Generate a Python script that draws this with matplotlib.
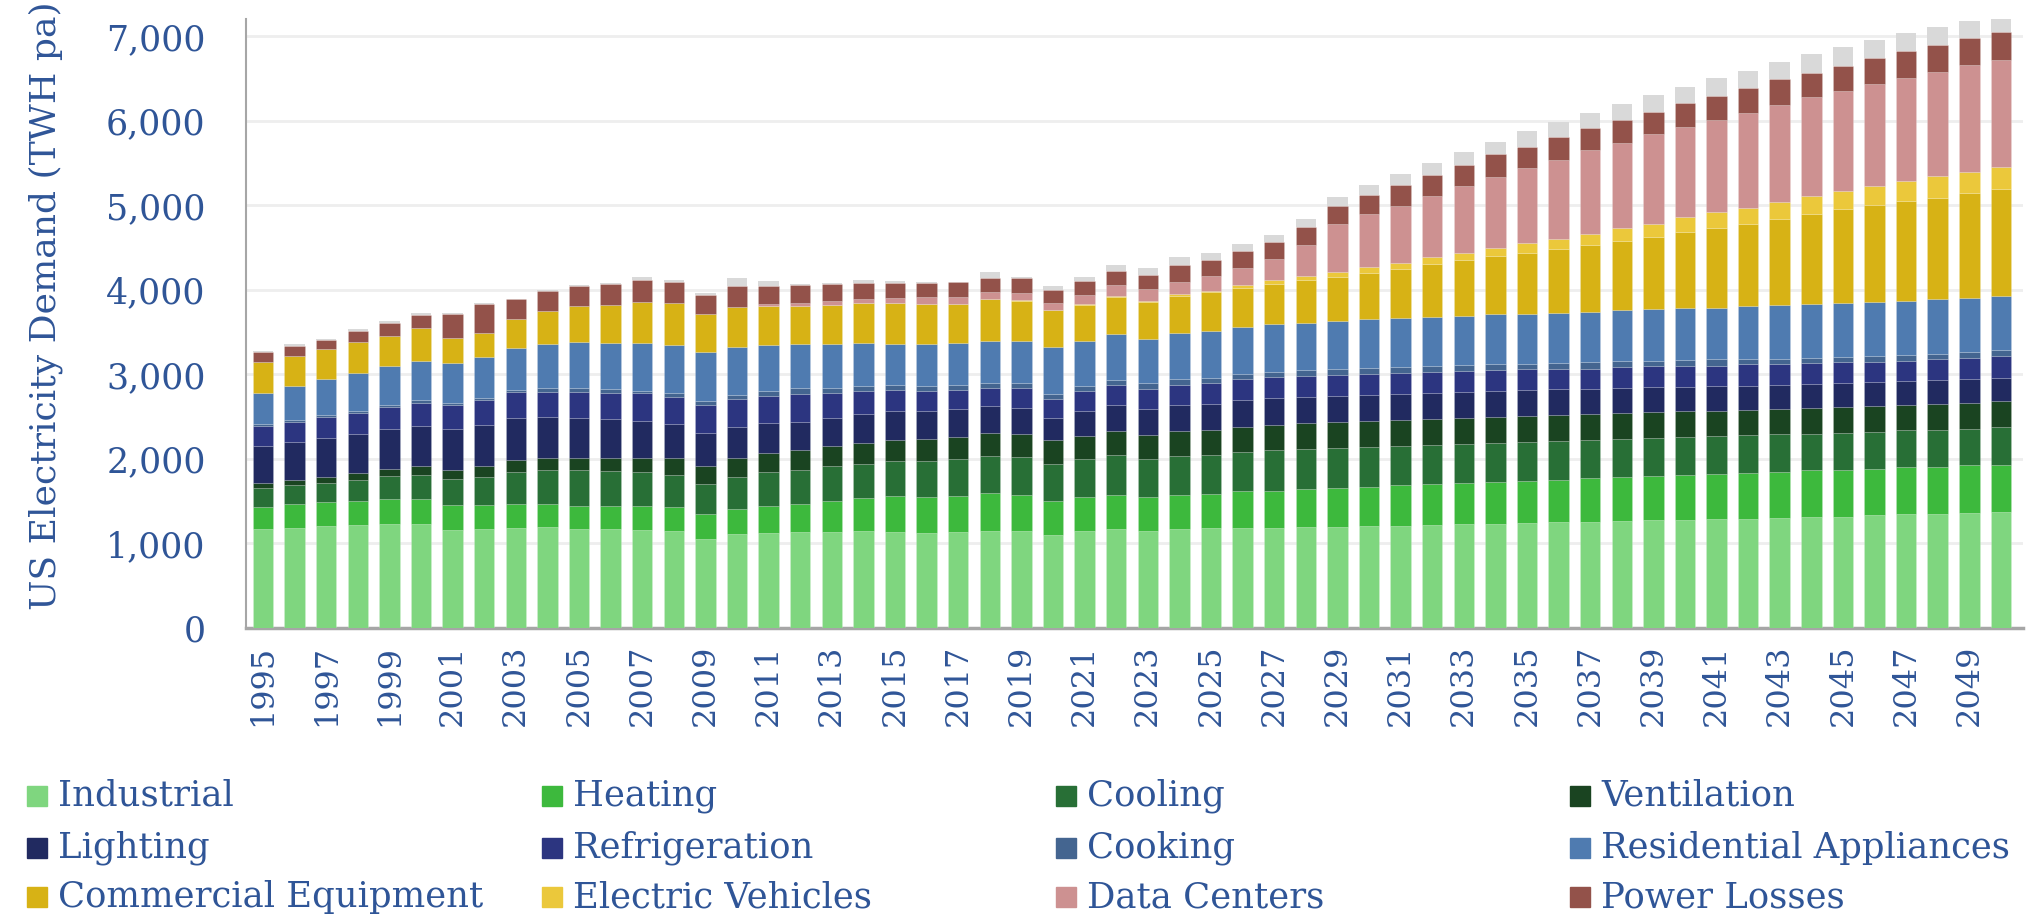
import matplotlib
matplotlib.use("Agg")
import matplotlib.pyplot as plt
from matplotlib.patches import Rectangle
from matplotlib.ticker import FuncFormatter
import numpy as np

years = list(range(1995, 2051))

industrial = [1169, 1180, 1204, 1216, 1227, 1227, 1161, 1169, 1180, 1192, 1169, 1169, 1157, 1145,
              1050, 1109, 1121, 1133, 1133, 1145, 1133, 1121, 1133, 1145, 1146, 1098, 1146, 1169,
              1146, 1169, 1181, 1181, 1186, 1198, 1198, 1209, 1209, 1221, 1233, 1233, 1245, 1258,
              1258, 1267, 1280, 1280, 1293, 1293, 1304, 1319, 1319, 1333, 1348, 1348, 1357, 1372]
heating = [266, 283, 282, 282, 295, 295, 290, 282, 293, 273, 272, 272, 284, 284,
           296, 296, 320, 332, 367, 391, 426, 427, 426, 450, 433, 402, 405, 410,
           405, 402, 402, 437, 439, 450, 462, 463, 487, 487, 486, 498, 498, 494,
           521, 520, 520, 533, 529, 542, 541, 546, 555, 551, 551, 560, 566, 560]
cooling = [224, 231, 232, 255, 278, 294, 314, 337, 367, 402, 426, 411, 399, 387,
           363, 387, 399, 402, 411, 410, 411, 422, 435, 434, 449, 445, 445, 472,
           453, 468, 468, 469, 482, 471, 470, 470, 458, 458, 459, 459, 455, 459,
           441, 446, 447, 447, 447, 447, 450, 430, 435, 440, 439, 440, 434, 450]
ventilation = [59, 59, 70, 82, 82, 102, 106, 130, 142, 150, 150, 165, 177, 190,
               202, 214, 225, 233, 237, 237, 249, 261, 260, 273, 271, 275, 280, 284,
               283, 296, 295, 295, 296, 308, 309, 309, 308, 308, 308, 308, 306, 307,
               311, 311, 306, 306, 297, 293, 299, 309, 305, 304, 305, 304, 310, 309]
lighting = [435, 447, 459, 459, 471, 470, 482, 482, 497, 474, 462, 450, 427, 402,
            391, 367, 355, 332, 331, 344, 343, 331, 332, 319, 307, 268, 295, 307,
            307, 307, 308, 319, 320, 308, 308, 308, 309, 309, 308, 308, 311, 306,
            298, 294, 298, 285, 294, 285, 280, 280, 280, 280, 275, 280, 280, 270]
refrigeration = [235, 235, 247, 255, 267, 279, 290, 302, 308, 304, 316, 316, 331, 328,
                 339, 339, 328, 339, 304, 280, 257, 245, 233, 221, 233, 221, 232, 232,
                 233, 232, 244, 244, 245, 245, 245, 245, 245, 245, 246, 245, 245, 245,
                 240, 244, 244, 244, 245, 258, 252, 251, 251, 242, 246, 247, 246, 256]
cooking = [20, 24, 24, 24, 23, 27, 24, 23, 24, 40, 40, 40, 32, 47,
           47, 48, 59, 64, 59, 59, 59, 59, 59, 60, 63, 63, 63, 55,
           67, 67, 63, 63, 64, 75, 75, 75, 75, 75, 75, 75, 60, 62,
           75, 75, 62, 75, 78, 65, 62, 58, 58, 67, 63, 63, 68, 73]
residential = [376, 408, 423, 439, 451, 459, 470, 483, 505, 529, 552, 552, 568, 569,
               581, 568, 545, 529, 522, 509, 486, 498, 497, 497, 492, 551, 528, 547,
               523, 547, 551, 551, 561, 554, 565, 577, 577, 577, 577, 589, 599, 599,
               599, 599, 612, 612, 608, 621, 628, 638, 642, 643, 643, 647, 642, 642]
commercial = [357, 345, 365, 376, 365, 400, 298, 286, 344, 382, 419, 450, 482, 489,
              446, 466, 454, 442, 454, 466, 477, 465, 454, 490, 476, 433, 429, 437,
              437, 437, 460, 461, 478, 510, 522, 546, 577, 624, 656, 684, 722, 752,
              792, 823, 853, 902, 941, 972, 1025, 1063, 1107, 1140, 1178, 1203, 1237, 1256]
electric_vehicles = [0, 0, 0, 0, 0, 0, 0, 0, 0, 0, 0, 0, 0, 0,
                     0, 0, 1, 1, 2, 2, 2, 3, 3, 5, 5, 4, 7, 16,
                     16, 24, 20, 35, 40, 43, 52, 63, 75, 79, 91, 91, 109, 123,
                     131, 153, 162, 175, 184, 197, 198, 217, 217, 227, 242, 256, 256, 266]
data_centers = [0, 0, 0, 0, 0, 0, 0, 0, 0, 0, 0, 0, 0, 0,
                0, 0, 23, 35, 47, 48, 59, 83, 83, 76, 90, 86, 111, 130,
                142, 145, 173, 205, 249, 364, 569, 628, 676, 732, 794, 850, 889, 936,
                984, 1010, 1058, 1062, 1097, 1123, 1149, 1169, 1184, 1208, 1217, 1232, 1266, 1266]
power_losses = [126, 129, 102, 130, 153, 149, 283, 333, 229, 245, 244, 249, 265, 253,
                229, 253, 221, 213, 201, 185, 174, 162, 174, 170, 173, 154, 161, 161,
                161, 201, 193, 205, 205, 221, 221, 226, 241, 245, 245, 261, 254, 267,
                263, 267, 258, 288, 276, 293, 300, 290, 299, 304, 314, 314, 314, 328]
other = [15, 20, 16, 19, 15, 20, 7, 12, 8, 8, 12, 8, 35, 24,
         16, 90, 59, 12, 12, 40, 24, 20, 8, 75, 19, 47, 48, 75,
         83, 91, 75, 78, 87, 95, 107, 126, 138, 146, 154, 150, 184, 179,
         183, 192, 206, 193, 211, 201, 203, 217, 218, 213, 218, 212, 208, 155]

names = ["Industrial", "Heating", "Cooling", "Ventilation",
         "Lighting", "Refrigeration", "Cooking", "Residential Appliances",
         "Commercial Equipment", "Electric Vehicles", "Data Centers", "Power Losses"]
series = [industrial, heating, cooling, ventilation, lighting, refrigeration, cooking,
          residential, commercial, electric_vehicles, data_centers, power_losses]
colors = ["#7fd67f", "#3db93d", "#286f36", "#1a4421", "#212a60", "#2c3580",
          "#446590", "#4f7bb0", "#d7b215", "#ebc83b", "#cd9191", "#93524a"]
other_color = "#d9d9d9"
text_color = "#2f5597"

plt.rcParams['font.family'] = ['DejaVu Serif']

fig = plt.figure(figsize=(20.31, 9.19), dpi=100)
ax = fig.add_axes([0.1211, 0.3166, 0.875, 0.6624])

x = np.arange(len(years))
bottom = np.zeros(len(years))
for vals, col in zip(series, colors):
    ax.bar(x, vals, width=0.65, bottom=bottom, color=col, edgecolor="#ffffff40", linewidth=0.4, zorder=3)
    bottom += np.array(vals)
ax.bar(x, other, width=0.65, bottom=bottom, color=other_color, linewidth=0, zorder=3)

ax.set_xlim(-0.54, 55.7)
ax.set_ylim(0, 7200)
ax.set_yticks(range(0, 7001, 1000))
ax.yaxis.set_major_formatter(FuncFormatter(lambda v, p: "{:,.0f}".format(v)))
ax.set_xticks(x[::2])
ax.set_xticklabels([str(y) for y in years[::2]], rotation=90)
ax.grid(axis="y", color="#eeeeee", linewidth=2, zorder=0)
ax.tick_params(axis="y", length=0, pad=29, labelsize=25, labelcolor=text_color)
ax.tick_params(axis="x", length=0, pad=12, labelsize=23, labelcolor=text_color)
for s in ["top", "right"]:
    ax.spines[s].set_visible(False)
ax.spines["left"].set_color("#a6a6a6")
ax.spines["left"].set_linewidth(1.5)
ax.spines["bottom"].set_color("#a6a6a6")
ax.spines["bottom"].set_linewidth(2.5)
ax.set_ylabel("US Electricity Demand (TWH pa)", fontsize=26, color=text_color)
ax.yaxis.set_label_coords(-0.103, 0.53)

# legend drawn by hand, 4 columns x 3 rows
W, H = 2031.0, 919.0
row_y = [796, 848, 897]
col_x = [27, 542, 1056, 1570]
for i, (name, col) in enumerate(zip(names, colors)):
    r, c = divmod(i, 4)
    x0 = col_x[c]
    yc = row_y[r]
    fig.patches.append(Rectangle((x0 / W, 1 - (yc + 10) / H), 20 / W, 20 / H,
                                 transform=fig.transFigure, color=col))
    fig.text((x0 + 31) / W, 1 - yc / H, name, fontsize=25.5, color=text_color,
             va="center", ha="left")

fig.savefig("out.png", dpi=100)
